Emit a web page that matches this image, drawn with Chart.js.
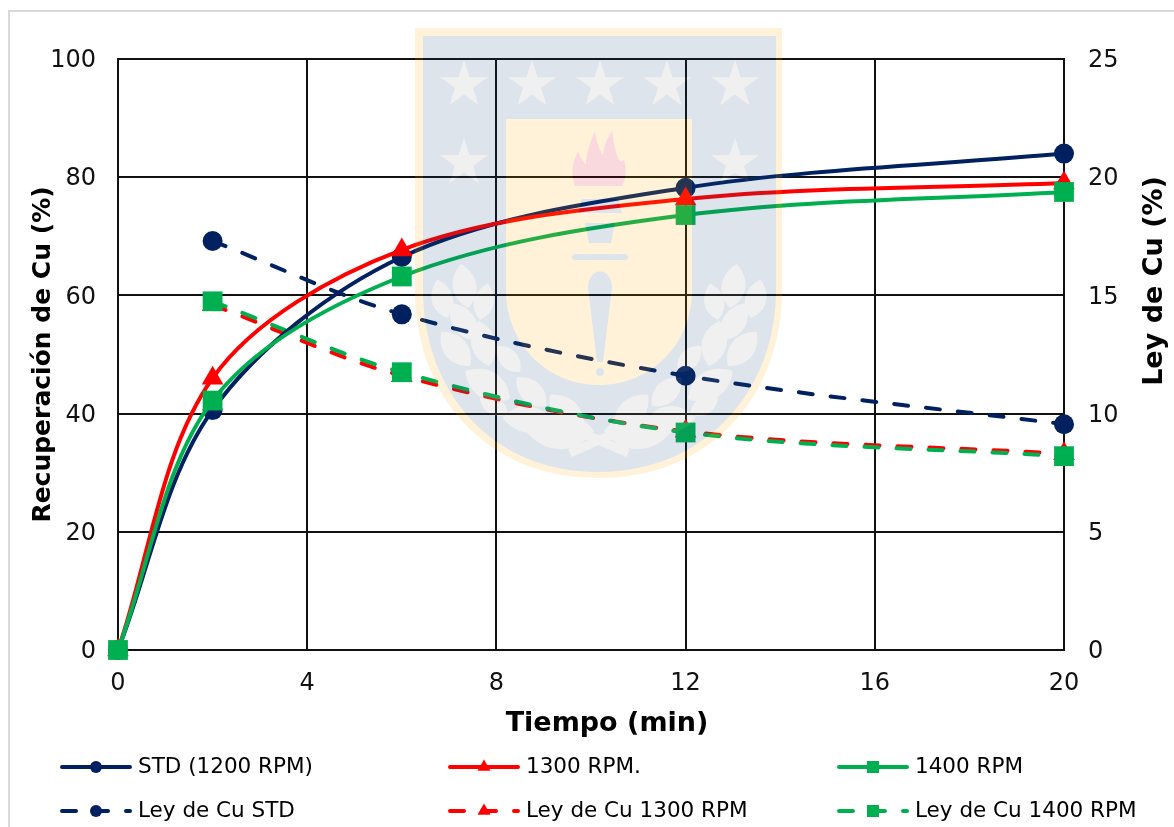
<!DOCTYPE html>
<html>
<head>
    <meta charset="utf-8">
    <title>Recuperación y ley de Cu</title>
    <script src="https://cdn.jsdelivr.net/npm/chart.js"></script>
    <style>
        html, body {
            margin: 0;
            padding: 0;
            width: 1174px;
            height: 827px;
            overflow: hidden;
            background-color: #ffffff;
        }
        #frame {
            position: absolute;
            left: 8px;
            top: 10px;
            width: 1400px;
            height: 1000px;
            border: 2px solid #d9d9d9;
        }
        #chart {
            position: absolute;
            left: 0;
            top: 0;
        }
        #logo {
            position: absolute;
            left: 0;
            top: 0;
            pointer-events: none;
        }
    </style>
</head>
<body>
    <div id="frame"></div>
    <canvas id="chart" width="1174" height="827"></canvas>

    <!-- escudo de fondo, va encima del grafico con poca opacidad -->
    <svg id="logo" width="1174" height="827" viewBox="0 0 1174 827">
        <defs>
            <polygon id="star" points="0,-25 5.6,-7.7 23.8,-7.7 9,2.9 14.7,20.2 0,9.5 -14.7,20.2 -9,2.9 -23.8,-7.7 -5.6,-7.7"/>
            <path id="leaf" d="M0,0 C-24,-18 -20,-46 0,-62 C20,-46 24,-18 0,0 Z"/>
            <g id="laurel" fill="#9b9b9b">
                <use href="#leaf" transform="translate(468,308) rotate(-9) scale(.72)"/>
                <use href="#leaf" transform="translate(447,318) rotate(-14) scale(.64)"/>
                <use href="#leaf" transform="translate(480,320) rotate(12) scale(.6)"/>
                <use href="#leaf" transform="translate(475,340) rotate(-32) scale(.7)"/>
                <use href="#leaf" transform="translate(489,366) rotate(-13) scale(.75)"/>
                <use href="#leaf" transform="translate(470,366) rotate(-40) scale(.72)"/>
                <use href="#leaf" transform="translate(520,372) rotate(-41) scale(.56)"/>
                <use href="#leaf" transform="translate(510,399) rotate(-58) scale(.85)"/>
                <use href="#leaf" transform="translate(546,406) rotate(-46) scale(.66)"/>
                <use href="#leaf" transform="translate(508,414) rotate(-61) scale(.52)"/>
                <use href="#leaf" transform="translate(552,421) rotate(-86) scale(.8)"/>
                <use href="#leaf" transform="translate(583,430) rotate(-43) scale(.78)"/>
                <use href="#leaf" transform="translate(594,431) rotate(-90) scale(1.1)"/>
                <line x1="570" y1="453" x2="622" y2="430" stroke="#9b9b9b" stroke-width="9"/>
            </g>
        </defs>
        <g opacity="0.15">
            <path fill="#ffaa00" d="M415,28 H782 V290 C782,395 712,478 598,478 C485,478 415,395 415,290 Z"/>
            <path fill="#1f4e79" d="M423,36 H776 V290 C776,390 706,472 598,472 C490,472 423,390 423,290 Z"/>
            <path fill="#ffaa00" d="M506,119 H692 V290 C692,345 650,385 599,385 C548,385 506,345 506,290 Z"/>
            <g fill="#9b9b9b">
                <use href="#star" x="464" y="85"/>
                <use href="#star" x="532" y="85"/>
                <use href="#star" x="600" y="85"/>
                <use href="#star" x="667" y="85"/>
                <use href="#star" x="735" y="85"/>
                <use href="#star" x="464" y="163"/>
                <use href="#star" x="735" y="163"/>
            </g>
            <use href="#laurel"/>
            <use href="#laurel" transform="translate(1198,0) scale(-1,1)"/>
            <path fill="#d70023" d="M575,186 C570,172 573,160 578,152 C581,158 584,162 586,165 C586,150 592,140 595,131 C597,145 600,150 603,155 C604,145 608,137 612,131 C614,145 616,155 620,162 L624,160 C627,170 626,180 622,186 Z"/>
            <g fill="#1f4e79">
                <path d="M582,199 H618 L622,213 H578 Z M585,223 H615 L611,243 H589 Z"/>
                <rect x="572" y="254" width="56" height="6" rx="3"/>
                <path d="M588,288 C588,266 612,266 612,288 L603,362 H597 Z"/>
                <circle cx="600" cy="372" r="4"/>
            </g>
        </g>
    </svg>

<script>
    var tiempo = [0, 2, 6, 12, 20];
    var recStd = [0, 40.6, 66.5, 78.2, 84.0];
    var rec1300 = [0, 46.0, 67.7, 76.3, 79.0];
    var rec1400 = [0, 42.2, 63.2, 73.6, 77.5];
    var leyStd = [null, 17.3, 14.2, 11.6, 9.55];
    var ley1300 = [null, 14.6, 11.6, 9.25, 8.3];
    var ley1400 = [null, 14.75, 11.75, 9.2, 8.2];

    var nombres = ['STD (1200 RPM)', '1300 RPM.', '1400 RPM', 'Ley de Cu STD', 'Ley de Cu 1300 RPM', 'Ley de Cu 1400 RPM'];
    var azul = '#002060';
    var rojo = '#ff0000';
    var verde = '#00b050';
    var fuente = '"DejaVu Sans", Verdana, sans-serif';
    var dash = [14, 18];

    function serie(i, datos, color, marca, radio, eje, orden, punteada) {
        return {
            label: nombres[i],
            data: datos,
            yAxisID: eje,
            order: orden,
            borderColor: color,
            backgroundColor: color,
            borderWidth: 4,
            borderDash: punteada ? dash : [],
            borderCapStyle: 'round',
            tension: 0.33,
            pointStyle: marca,
            pointRadius: radio,
            pointBorderWidth: 0,
            pointBackgroundColor: color,
            clip: false
        };
    }

    // leyenda a mano porque el original va en 3 columnas fijas
    var leyendaCols = [60, 448, 837];
    var leyendaFilas = [767, 811];
    var marcasLeyenda = { circle: 6, triangle: 7.5, rect: 8.5 };

    var extras = {
        id: 'extras',
        afterDraw: function (chart) {
            var ctx = chart.ctx;
            ctx.save();

            ctx.font = 'bold 27px ' + fuente;
            ctx.fillStyle = '#000000';
            ctx.textAlign = 'center';
            ctx.textBaseline = 'middle';
            ctx.fillText('Tiempo (min)', 607, 724);

            // titulo del eje derecho, no va centrado en el original
            ctx.translate(1155, 281);
            ctx.rotate(-Math.PI / 2);
            ctx.fillText('Ley de Cu (%)', 0, 0);
            ctx.setTransform(1, 0, 0, 1, 0, 0);

            chart.data.datasets.forEach(function (ds, i) {
                var x = leyendaCols[i % 3];
                var y = leyendaFilas[Math.floor(i / 3)];
                ctx.strokeStyle = ds.borderColor;
                ctx.lineWidth = 4;
                ctx.lineCap = 'round';
                ctx.setLineDash(ds.borderDash);
                ctx.beginPath();
                ctx.moveTo(x + 2, y);
                ctx.lineTo(x + 70, y);
                ctx.stroke();
                ctx.setLineDash([]);
                ctx.fillStyle = ds.borderColor;
                Chart.helpers.drawPoint(ctx, {
                    pointStyle: ds.pointStyle,
                    radius: marcasLeyenda[ds.pointStyle],
                    borderWidth: 0
                }, x + 36, y);
                ctx.fillStyle = '#000000';
                ctx.font = '21.5px ' + fuente;
                ctx.textAlign = 'left';
                ctx.textBaseline = 'middle';
                ctx.fillText(ds.label, x + 78, y);
            });
            ctx.restore();
        }
    };

    var chart = new Chart(document.getElementById('chart').getContext('2d'), {
        type: 'line',
        data: {
            labels: tiempo,
            datasets: [
                serie(0, recStd, azul, 'circle', 10, 'y', 3, false),
                serie(1, rec1300, rojo, 'triangle', 12.5, 'y', 2, false),
                serie(2, rec1400, verde, 'rect', 14, 'y', 1, false),
                serie(3, leyStd, azul, 'circle', 10, 'y2', 6, true),
                serie(4, ley1300, rojo, 'triangle', 12.5, 'y2', 5, true),
                serie(5, ley1400, verde, 'rect', 14, 'y2', 4, true)
            ]
        },
        plugins: [extras],
        options: {
            responsive: false,
            animation: false,
            layout: { padding: { top: 59, bottom: 85, left: 0, right: 0 } },
            plugins: {
                legend: { display: false },
                tooltip: { enabled: false }
            },
            scales: {
                x: {
                    type: 'linear',
                    min: 0,
                    max: 20,
                    grid: { color: '#111111', lineWidth: 2, drawTicks: false },
                    border: { color: '#111111', width: 2 },
                    ticks: {
                        stepSize: 4,
                        padding: 19,
                        maxRotation: 0,
                        color: '#111111',
                        font: { family: fuente, size: 24 }
                    },
                    afterFit: function (scale) { scale.height = 92; }
                },
                y: {
                    min: 0,
                    max: 100,
                    grid: { color: '#111111', lineWidth: 2, drawTicks: false },
                    border: { color: '#111111', width: 2 },
                    ticks: {
                        stepSize: 20,
                        padding: 22,
                        labelOffset: 2,
                        color: '#111111',
                        font: { family: fuente, size: 24 }
                    },
                    title: {
                        display: true,
                        text: 'Recuperación de Cu (%)',
                        color: '#000000',
                        padding: { top: 28, bottom: 0 },
                        font: { family: fuente, size: 25, weight: 'bold' }
                    },
                    afterFit: function (scale) { scale.width = 118; }
                },
                y2: {
                    position: 'right',
                    min: 0,
                    max: 25,
                    grid: { drawOnChartArea: false, drawTicks: false },
                    border: { color: '#111111', width: 2 },
                    ticks: {
                        stepSize: 5,
                        padding: 24,
                        labelOffset: 2,
                        color: '#111111',
                        font: { family: fuente, size: 24 }
                    },
                    afterFit: function (scale) { scale.width = 110; }
                }
            }
        }
    });
</script>
</body>
</html>
